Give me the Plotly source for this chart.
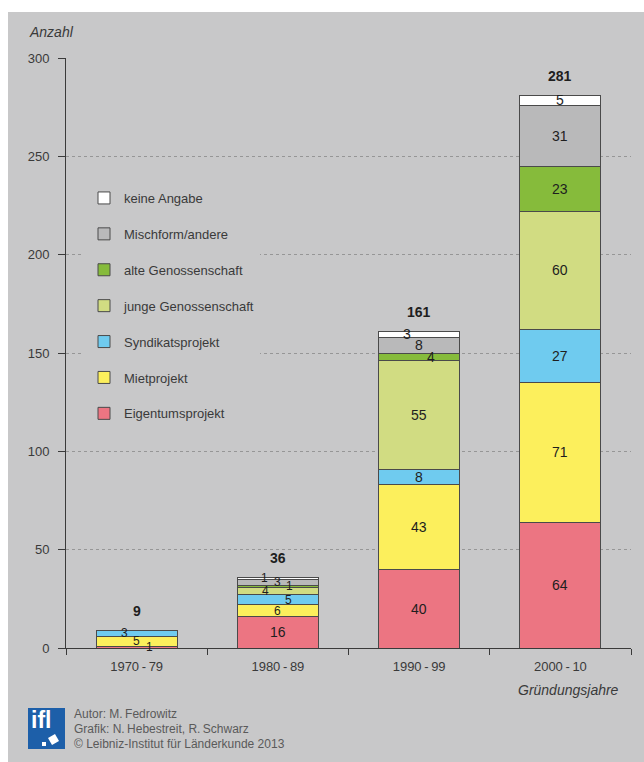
import plotly.graph_objects as go

categories = ["1970\u2009-\u200979", "1980\u2009-\u200989", "1990\u2009-\u200999", "2000\u2009-\u200910"]
series_names = ["Eigentumsprojekt", "Mietprojekt", "Syndikatsprojekt", "junge Genossenschaft",
                "alte Genossenschaft", "Mischform/andere", "keine Angabe"]
eigentum = [1, 16, 40, 64]
miet = [5, 6, 43, 71]
syndikat = [3, 5, 8, 27]
junge = [0, 4, 55, 60]
alte = [0, 1, 4, 23]
misch = [0, 3, 8, 31]
keine = [0, 1, 3, 5]
totals = [9, 36, 161, 281]
y_ticks = [0, 50, 100, 150, 200, 250, 300]

colors = ["#ec7582", "#fcef5c", "#6fcbef", "#d1dc82", "#86bb3b", "#b9b9ba", "#ffffff"]
values = [eigentum, miet, syndikat, junge, alte, misch, keine]
# horizontal label offsets (px) for crowded thin segments
label_dx = [
    [13, 0, 0, 0],
    [0, 0, 0, 0],
    [-12, 11, 0, 0],
    [0, -12, 0, 0],
    [0, 12, 12, 0],
    [0, 0, 0, 0],
    [0, -13, -12, 0],
]

FONT = "Liberation Sans, Arial, sans-serif"
BG = "#c8c8c9"
W, H = 644, 762
L, R, T, B = 66, 13, 58, 114
PW, PH = W - L - R, H - T - B

def px(xp):
    return (xp - L) / PW

def py(yp):
    return (H - B - yp) / PH

fig = go.Figure()
base = [0] * len(categories)
n = len(series_names)
for k, (name, vals, col, dxs) in enumerate(zip(series_names, values, colors, label_dx)):
    fig.add_trace(go.Bar(
        name=name, x=categories, y=vals,
        marker=dict(color=col, line=dict(color="#4a4a4a", width=1)),
        width=0.575,
        legendgroup=name, legendrank=100 * (n - k),
        hoverinfo="skip",
    ))
    for i, (c, v) in enumerate(zip(categories, vals)):
        if v > 0:
            fs = 12 if (v < 7 and totals[i] < 50) else 14
            fig.add_annotation(x=c, y=base[i] + v / 2, text=str(v), showarrow=False,
                               xanchor="center", yanchor="middle", xshift=dxs[i],
                               borderpad=0,
                               font=dict(family=FONT, size=fs, color="#1e1e1e"))
        base[i] += v

for c, t in zip(categories, totals):
    fig.add_annotation(x=c, y=t, text="<b>%d</b>" % t, showarrow=False,
                       yanchor="bottom", yshift=9,
                       font=dict(family=FONT, size=14, color="#1e1e1e"))

shapes = [
    dict(type="rect", xref="paper", yref="paper", x0=px(8), x1=px(W + 5), y0=py(H + 5), y1=py(12),
         fillcolor=BG, line=dict(width=0), layer="below"),
    dict(type="rect", xref="paper", yref="paper", x0=px(28), x1=px(65), y0=py(749), y1=py(708),
         fillcolor="#1d5fa9", line=dict(width=0), layer="above"),
    dict(type="path", xref="paper", yref="paper",
         path="M %f,%f L %f,%f L %f,%f L %f,%f Z" % (px(48), py(738), px(55), py(734), px(59), py(741), px(52), py(745)),
         fillcolor="#ffffff", line=dict(width=0), layer="above"),
    dict(type="rect", xref="paper", yref="paper", x0=px(42), x1=px(46), y0=py(746), y1=py(742),
         fillcolor="#ffffff", line=dict(width=0), layer="above"),
]

annos = [
    dict(text="<i>Anzahl</i>", x=px(27), y=py(32), xanchor="left", yanchor="middle", size=14),
    dict(text="<i>Gründungsjahre</i>", x=px(621), y=py(690), xanchor="right", yanchor="middle", size=14),
    dict(text="Autor: M.\u2009Fedrowitz", x=px(72), y=py(714), xanchor="left", yanchor="middle", size=12, color="#5a5a5a"),
    dict(text="Grafik: N.\u2009Hebestreit, R.\u2009Schwarz", x=px(72), y=py(729), xanchor="left", yanchor="middle", size=12, color="#5a5a5a"),
    dict(text="© Leibniz-Institut für Länderkunde 2013", x=px(72), y=py(744), xanchor="left", yanchor="middle", size=12, color="#5a5a5a"),
    dict(text="<b>ifl</b>", x=px(29), y=py(720), xanchor="left", yanchor="middle", size=23, color="#ffffff"),
]
for a in annos:
    fig.add_annotation(xref="paper", yref="paper", x=a["x"], y=a["y"], text=a["text"],
                       xanchor=a["xanchor"], yanchor=a["yanchor"], showarrow=False,
                       font=dict(family=FONT, size=a.get("size", 13), color=a.get("color", "#3a3a3a")))

fig.update_layout(
    width=W, height=H,
    margin=dict(l=L, r=R, t=T, b=B, pad=0),
    barmode="stack",
    paper_bgcolor="#ffffff",
    plot_bgcolor=BG,
    font=dict(family=FONT, size=12, color="#3a3a3a"),
    shapes=shapes,
    legend=dict(x=px(84), y=py(183), xanchor="left", yanchor="top",
                traceorder="grouped", bgcolor=BG, tracegroupgap=16,
                font=dict(size=13, color="#3a3a3a"), itemclick=False),
    xaxis=dict(type="category", range=[-0.5, 3.5], showline=True, linecolor="#3a3a3a", linewidth=1,
               ticks="outside", ticklen=6, tickcolor="#3a3a3a", tickson="boundaries",
               ticklabelstandoff=6,
               showgrid=False, tickfont=dict(size=13, color="#3a3a3a"), fixedrange=True),
    yaxis=dict(range=[0, 300], tickvals=y_ticks, showline=True, linecolor="#3a3a3a", linewidth=1,
               ticks="outside", ticklen=7, tickcolor="#3a3a3a", ticklabelstandoff=6,
               showgrid=True, gridcolor="#969696", griddash="dot", gridwidth=1,
               zeroline=False, tickfont=dict(size=13, color="#3a3a3a"), fixedrange=True),
)

fig.write_html("out.html")
